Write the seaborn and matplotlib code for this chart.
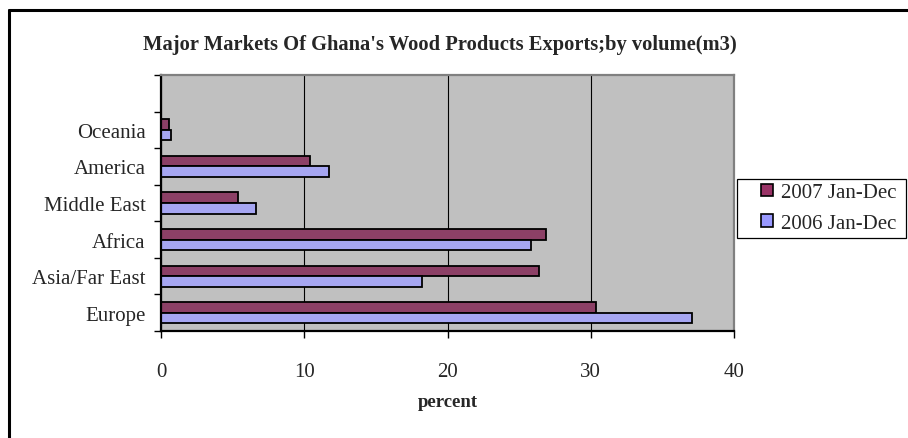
import matplotlib
matplotlib.use('Agg')
import matplotlib.pyplot as plt
from matplotlib.lines import Line2D
from matplotlib.patches import Patch, Rectangle
import seaborn as sns
import pandas as pd

# data (percent of export volume)
regions = ['Europe', 'Asia/Far East', 'Africa', 'Middle East', 'America', 'Oceania']
share_2007 = [30.4, 26.4, 26.9, 5.4, 10.4, 0.55]
share_2006 = [37.1, 18.2, 25.8, 6.6, 11.7, 0.7]
series = ['2007 Jan-Dec', '2006 Jan-Dec']
colors = ['#993366', '#9999FF']
xticks = [0, 10, 20, 30, 40]

df = pd.DataFrame({
    'region': regions * 2,
    'percent': share_2007 + share_2006,
    'period': [series[0]] * len(regions) + [series[1]] * len(regions),
})

# top slot stays empty, as in the original
order = [''] + regions[::-1]

sns.set_style('white')
plt.rcParams['font.family'] = ['Liberation Serif', 'DejaVu Serif']

fig = plt.figure(figsize=(9.08, 4.39), dpi=100)
ax = fig.add_axes([161 / 908, 1 - 332 / 439, (734 - 161) / 908, (332 - 76) / 439])

sns.barplot(data=df, y='region', x='percent', hue='period', order=order,
            hue_order=series, palette=colors, orient='h', width=0.58,
            edgecolor='black', linewidth=1.3, ax=ax, legend=False)

ax.set_facecolor('#C0C0C0')
ax.set_xlim(0, 40)
ax.set_ylim(len(order) - 0.5, -0.5)
ax.set_xticks(xticks)
ax.xaxis.grid(True, color='black', linewidth=0.8)
ax.set_axisbelow(True)

# category labels at centres, tick marks at the boundaries
ax.set_yticks(range(len(order)))
ax.set_yticklabels(order)
ax.set_yticks([i - 0.5 for i in range(len(order) + 1)], minor=True)
ax.tick_params(axis='y', which='major', length=0, pad=11, labelsize=15)
ax.tick_params(axis='y', which='minor', left=True, length=5, width=1, color='black')
ax.tick_params(axis='x', bottom=True, length=5, width=1, color='black', pad=17, labelsize=15)

for side in ['left', 'bottom']:
    ax.spines[side].set_color('black')
    ax.spines[side].set_linewidth(1.6)
for side in ['top', 'right']:
    ax.spines[side].set_color('#808080')
    ax.spines[side].set_linewidth(1.6)

ax.set_ylabel('')
ax.set_xlabel('percent', fontsize=13.5, fontweight='bold', labelpad=9)

fig.text(440 / 908, 1 - 45 / 439, "Major Markets Of Ghana's Wood Products Exports;by volume(m3)",
         ha='center', va='center', fontsize=14.8, fontweight='bold')

# legend box drawn separately so it can be wider than its entries
fig.add_artist(Rectangle((737 / 908, 1 - 239 / 439), (906 - 737) / 908, (239 - 180) / 439,
                         transform=fig.transFigure, facecolor='white', edgecolor='black',
                         linewidth=0.9, zorder=3))
handles = [Patch(facecolor=c, edgecolor='black', linewidth=1.2) for c in colors]
leg = fig.legend(handles, series, loc='center left',
                 bbox_to_anchor=(755 / 908, 1 - 209 / 439), fontsize=15,
                 frameon=False, handlelength=0.55, handleheight=0.55, handletextpad=0.4,
                 borderpad=0.3, labelspacing=0.55, borderaxespad=0)
leg.set_zorder(4)

# outer chart border (only top and left are inside the picture)
fig.add_artist(Line2D([9 / 908, 9 / 908], [0, 1 - 11 / 439], color='black', linewidth=2.2,
                      transform=fig.transFigure))
fig.add_artist(Line2D([9 / 908, 1], [1 - 11 / 439, 1 - 11 / 439], color='black', linewidth=2.2,
                      transform=fig.transFigure))

fig.savefig('out.png', dpi=100)
